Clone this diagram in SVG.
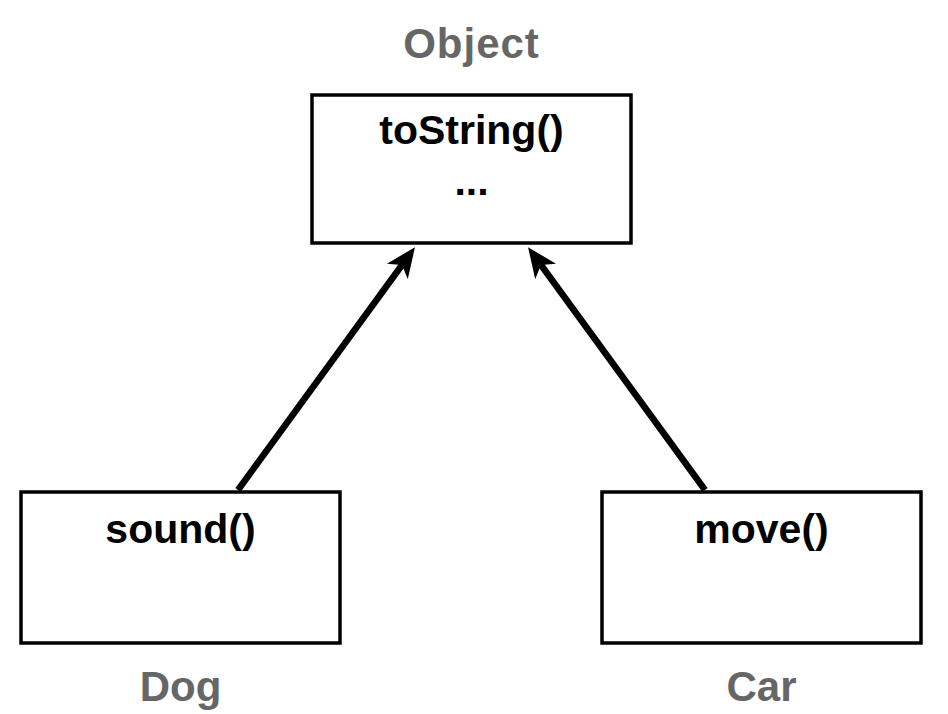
<svg xmlns="http://www.w3.org/2000/svg" width="948" height="714" viewBox="0 0 948 714">
<defs>
<style>
.box{fill:#fff;stroke:#000;stroke-width:3.5}
.m{font-family:"Liberation Sans",Arial,sans-serif;font-weight:bold;font-size:41px;fill:#000;text-anchor:middle}
.t{font-family:"Liberation Sans",Arial,sans-serif;font-weight:bold;font-size:42px;fill:#666;text-anchor:middle}
.c{fill:none;stroke:#000;stroke-width:6.5}
</style>
<marker id="ah" markerUnits="userSpaceOnUse" viewBox="0 -13 30 26" refX="8" refY="0" markerWidth="30" markerHeight="26" orient="auto">
<path d="M0,-13 L30,0 L0,13 L8,0 Z" fill="#000"/>
</marker>
</defs>
<rect width="948" height="714" fill="#fff"/>
<g id="connectors">
<path class="c" d="M238,490 L402,265" marker-end="url(#ah)"/>
<path class="c" d="M705,490 L541,265" marker-end="url(#ah)"/>
</g>
<g id="object">
<text class="t" x="471.5" y="58" letter-spacing="1">Object</text>
<rect class="box" x="312" y="95" width="319" height="148"/>
<text class="m" x="471.5" y="144">toString()</text>
<text class="m" x="471.5" y="195">...</text>
</g>
<g id="dog">
<rect class="box" x="21" y="492" width="319" height="151"/>
<text class="m" x="180.5" y="543">sound()</text>
<text class="t" x="180.5" y="701">Dog</text>
</g>
<g id="car">
<rect class="box" x="602" y="492" width="319" height="151"/>
<text class="m" x="761.5" y="543">move()</text>
<text class="t" x="761.5" y="701">Car</text>
</g>
</svg>
